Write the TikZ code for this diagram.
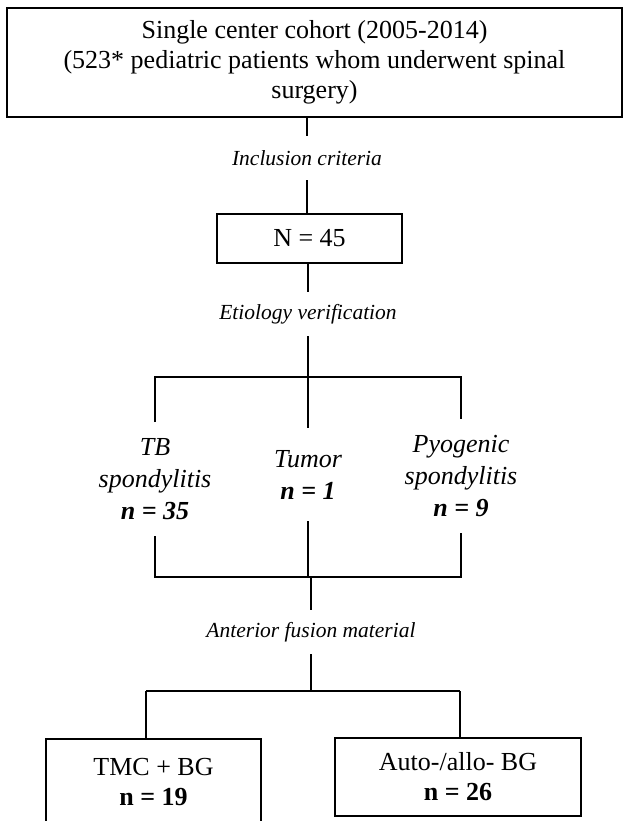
\documentclass[tikz,border=0pt]{standalone}
\usepackage{fontspec}
\setmainfont{Liberation Serif}

\begin{document}
\begin{tikzpicture}[x=0.5pt, y=-0.5pt, line width=1pt,
  box/.style={draw, line width=1.2pt, align=center, inner sep=0pt,
    font=\fontsize{13}{15}\selectfont},
  crit/.style={inner sep=0pt, minimum height=21pt,
    font=\fontsize{10.75}{13}\selectfont\itshape},
  group/.style={inner sep=0pt, align=center,
    font=\fontsize{13}{16}\selectfont\itshape}]
  \useasboundingbox (0,0) rectangle (623,821);

  % Cohort and inclusion step
  \node[box, minimum width=307.5pt, minimum height=54.5pt] (cohort) at (314.5,62.5)
    {Single center cohort (2005-2014)\\(523* pediatric patients whom underwent spinal\\surgery)};
  \node[crit] (incl) at (307,158) {Inclusion criteria};
  \node[box, minimum width=92.5pt, minimum height=24.5pt] (total) at (309.5,238.5) {N = 45};
  \node[crit] (etio) at (308,314) {Etiology verification};

  \draw (cohort.south -| incl) -- (incl);
  \draw (incl) -- (incl |- total.north);
  \draw (total.south -| etio) -- (etio);

  % Etiology groups
  \coordinate (j1) at (308,377);
  \coordinate (j2) at (311,577);
  \node[group, minimum height=56pt] (tb) at (155,479)
    {TB\\spondylitis\\\textbf{n = 35}};
  \node[group, minimum height=45.5pt] (tumor) at (308,474.5)
    {Tumor\\\textbf{n = 1}};
  \node[group, minimum height=56pt] (pyo) at (461,476)
    {Pyogenic\\spondylitis\\\textbf{n = 9}};

  \draw (etio) -- (tumor);
  \draw (tb.north) |- (j1) -| (pyo.north);
  \draw (tb.south) |- (j2) -| (pyo.south);
  \draw (tumor.south) -- (tumor.south |- j2);

  % Fusion material
  \node[crit] (fusion) at (311,632) {Anterior fusion material};
  \coordinate (j3) at (311,691);
  \coordinate (lft) at (146,691);
  \coordinate (rgt) at (460,691);
  \node[box, anchor=north, minimum width=107.5pt, minimum height=43pt] (tmc) at (153.5,738)
    {TMC + BG\\\textbf{n = 19}};
  \node[box, minimum width=123pt, minimum height=39pt] (allo) at (458,777)
    {Auto-/allo- BG\\\textbf{n = 26}};

  \draw (j2) -- (fusion);
  \draw (fusion) -- (j3);
  \draw (lft) -- (rgt);
  \draw (lft) -- (lft |- tmc.north);
  \draw (rgt) -- (rgt |- allo.north);

\end{tikzpicture}
\end{document}
